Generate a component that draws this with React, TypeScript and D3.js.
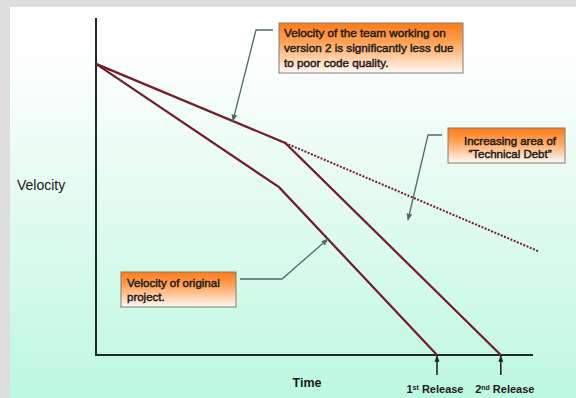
import React from "react";
import * as d3 from "d3";

// Velocity over time for the two efforts
const originalProject = [
  { t: 0, v: 86.9 },
  { t: 41.6, v: 50.1 },
  { t: 77.5, v: 0 },
];
const version2 = [
  { t: 0, v: 86.9 },
  { t: 43, v: 63.3 },
  { t: 92, v: 0 },
];
const debtTrend = [
  { t: 43, v: 63.3 },
  { t: 100.5, v: 31 },
];
const releases = [
  { t: 77.5, num: "1", sup: "st", rest: " Release" },
  { t: 92, num: "2", sup: "nd", rest: " Release" },
];
const calloutVersion2 = ["Velocity of the team working on", "version 2 is significantly less due", "to poor code quality."];
const calloutOriginal = ["Velocity of original", "project."];
const calloutDebt = ["Increasing area of", "\u201CTechnical Debt\u201D"];

const W = 576;
const H = 398;
const x = d3.scaleLinear().domain([0, 100]).range([96, 536]);
const y = d3.scaleLinear().domain([0, 100]).range([355, 20]);

const line = d3
  .line<{ t: number; v: number }>()
  .x((d) => x(d.t))
  .y((d) => y(d.v));

// value of a polyline at time t
const valueAt = (pts: { t: number; v: number }[], t: number) =>
  d3.scaleLinear().domain(pts.map((p) => p.t)).range(pts.map((p) => p.v))(t);

const MAROON = "#731c2b";
const AXIS = "#1d2a2a";
const LEADER = "#506a6a";
const FONT = "'Liberation Sans', Arial, sans-serif";

function Callout({ x0, y0, w, h, lines, anchor, tx, lh, size, first }: any) {
  return (
    <g>
      <rect x={x0} y={y0} width={w} height={h} fill="url(#boxGrad)" stroke="#7d7d7d" strokeWidth={1} />
      {lines.map((l: string, i: number) => (
        <text
          key={i}
          x={tx}
          y={y0 + first + i * lh}
          textAnchor={anchor}
          fontFamily={FONT}
          fontSize={size}
          fill="#1a1a1a"
          stroke="#1a1a1a"
          strokeWidth={0.45}
        >
          {l}
        </text>
      ))}
    </g>
  );
}

export default function App() {
  const tip1 = { x: x(31.1), y: y(valueAt(version2, 31.1)) };
  const tip2 = { x: x(52.7), y: y(valueAt(originalProject, 52.7)) };
  const tip3 = { x: x(70.9), y: y(40.3) };
  const labelShift = [-2, 4];

  return (
    <svg width={W} height={H} style={{ position: "absolute", left: 0, top: 0 }}>
      <defs>
        <linearGradient id="bgGrad" x1="0" y1="0" x2="0" y2="1">
          <stop offset="0%" stopColor="#ffffff" />
          <stop offset="10%" stopColor="#ffffff" />
          <stop offset="45%" stopColor="#e6fbf2" />
          <stop offset="100%" stopColor="#bdf8e0" />
        </linearGradient>
        <linearGradient id="boxGrad" x1="0" y1="0" x2="0" y2="1">
          <stop offset="0%" stopColor="#ff7a14" />
          <stop offset="40%" stopColor="#ffa55a" />
          <stop offset="100%" stopColor="#fffaf6" />
        </linearGradient>
        <marker id="arrow" viewBox="0 0 10 10" refX="9" refY="5" markerWidth="5.5" markerHeight="5.5" orient="auto">
          <path d="M0,1 L10,5 L0,9 z" fill={LEADER} />
        </marker>
        <marker id="arrowDark" viewBox="0 0 10 10" refX="9" refY="5" markerWidth="4" markerHeight="4" orient="auto">
          <path d="M0,1 L10,5 L0,9 z" fill={AXIS} />
        </marker>
      </defs>
      <rect x={0} y={0} width={W} height={H} fill="#dedede" />
      <rect x={10} y={7} width={W - 10} height={H - 7} fill="url(#bgGrad)" />

      {/* axes */}
      <line x1={x(0)} y1={18} x2={x(0)} y2={y(0) + 1} stroke={AXIS} strokeWidth={2} />
      <line x1={x(0)} y1={y(0)} x2={533} y2={y(0)} stroke={AXIS} strokeWidth={2} />

      {/* velocity lines */}
      <path d={line(debtTrend) || ""} fill="none" stroke={MAROON} strokeWidth={2} strokeDasharray="2,1.5" />
      <path d={line(originalProject) || ""} fill="none" stroke={MAROON} strokeWidth={2.2} />
      <path d={line(version2) || ""} fill="none" stroke={MAROON} strokeWidth={2.2} />

      {/* release markers */}
      {releases.map((r, i) => (
        <g key={i}>
          <line x1={x(r.t)} y1={375} x2={x(r.t)} y2={y(0) + 1} stroke={AXIS} strokeWidth={1.6} markerEnd="url(#arrowDark)" />
          <text x={x(r.t) + labelShift[i]} y={393} textAnchor="middle" fontFamily={FONT} fontWeight="bold" fontSize={11} fill="#1a1a1a">
            {r.num}
            <tspan fontSize={7} dy={-3.5}>{r.sup}</tspan>
            <tspan dy={3.5}>{r.rest}</tspan>
          </text>
        </g>
      ))}

      {/* axis titles */}
      <text x={17} y={190} fontFamily={FONT} fontSize={14} fill="#1a1a1a">Velocity</text>
      <text x={307} y={387} textAnchor="middle" fontFamily={FONT} fontWeight="bold" fontSize={12.5} fill="#1a1a1a">Time</text>

      {/* leaders */}
      <path d={`M273,30 L256,30 L${tip1.x},${tip1.y}`} fill="none" stroke={LEADER} strokeWidth={1.3} markerEnd="url(#arrow)" />
      <path d={`M240,279 L282,279 L${tip2.x},${tip2.y}`} fill="none" stroke={LEADER} strokeWidth={1.3} markerEnd="url(#arrow)" />
      <path d={`M442,135 L428,135 L${tip3.x},${tip3.y}`} fill="none" stroke={LEADER} strokeWidth={1.3} markerEnd="url(#arrow)" />

      <Callout x0={279} y0={23} w={184} h={50} lines={calloutVersion2} anchor="start" tx={284} lh={15} size={11.7} first={14} />
      <Callout x0={121} y0={272} w={115} h={35} lines={calloutOriginal} anchor="start" tx={127} lh={14} size={11.5} first={15} />
      <Callout x0={448} y0={128} w={117} h={35} lines={calloutDebt} anchor="middle" tx={510} lh={12.5} size={11.5} first={17} />
    </svg>
  );
}
